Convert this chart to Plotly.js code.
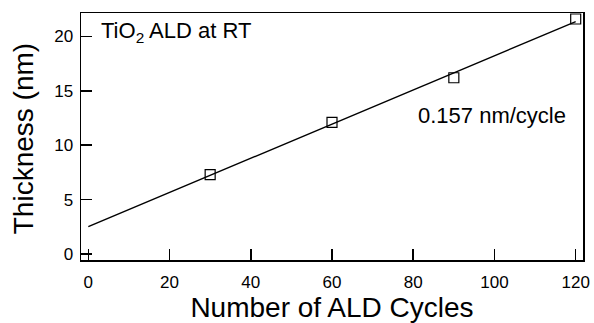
<!DOCTYPE html>
<html>
<head>
<meta charset="utf-8">
<script src="https://cdn.plot.ly/plotly-3.0.1.min.js"></script>
<style>html,body{margin:0;padding:0;background:#fff;}#chart{width:594px;height:323px;}</style>
</head>
<body>
<div id="chart"></div>
<script>
var cycles = [30, 60, 90, 120];
var thickness = [7.3, 12.1, 16.2, 21.6];
var fitSlope = 0.157;
var fitIntercept = 2.52;
var fitX = [0, 120];
var fitY = fitX.map(function(x){ return fitIntercept + fitSlope * x; });
var xTicks = [0, 20, 40, 60, 80, 100, 120];
var yTicks = [0, 5, 10, 15, 20];
var xTitle = 'Number of ALD Cycles';
var yTitle = 'Thickness (nm)';

var font = 'Liberation Sans, Arial, Helvetica, sans-serif';
var data = [
  {x: fitX, y: fitY, mode: 'lines', line: {color: '#000', width: 1.4}, hoverinfo: 'skip'},
  {x: cycles, y: thickness, mode: 'markers',
   marker: {symbol: 'square-open', size: 10, color: '#000', line: {width: 1.2, color: '#000'}}}
];
var layout = {
  width: 594, height: 323,
  margin: {l: 81, r: 11, t: 13, b: 63},
  showlegend: false,
  paper_bgcolor: '#fff', plot_bgcolor: '#fff',
  font: {family: font, color: '#000'},
  xaxis: {
    range: [-1.8, 121.8], tickvals: xTicks, ticktext: xTicks.map(String),
    ticks: 'inside', ticklen: 11, tickwidth: 1.5, tickcolor: '#000',
    showline: true, linecolor: '#000', linewidth: 1.5, mirror: true,
    showgrid: false, zeroline: false, ticklabelstandoff: 6,
    tickfont: {size: 17, family: font},
    title: {text: xTitle, font: {size: 28, family: font}, standoff: 4}
  },
  yaxis: {
    range: [-0.55, 22.15], tickvals: yTicks, ticktext: yTicks.map(String),
    ticks: 'inside', ticklen: 11, tickwidth: 1.5, tickcolor: '#000',
    showline: true, linecolor: '#000', linewidth: 1.5, mirror: true,
    showgrid: false, zeroline: false, ticklabelstandoff: 3,
    tickfont: {size: 17, family: font}
  },
  annotations: [
    {xref: 'paper', yref: 'paper', x: -0.113, y: 0.49, xanchor: 'center', yanchor: 'middle',
     textangle: -90, text: yTitle, showarrow: false, font: {size: 28, family: font}},
    {xref: 'paper', yref: 'paper', x: 0.036, y: 0.923, xanchor: 'left', yanchor: 'middle',
     text: 'TiO<sub>2</sub> ALD at RT', showarrow: false, font: {size: 22, family: font}},
    {xref: 'paper', yref: 'paper', x: 0.97, y: 0.587, xanchor: 'right', yanchor: 'middle',
     text: '0.157 nm/cycle', showarrow: false, font: {size: 22, family: font}}
  ]
};
Plotly.newPlot('chart', data, layout, {displayModeBar: false, staticPlot: true});
</script>
</body>
</html>
